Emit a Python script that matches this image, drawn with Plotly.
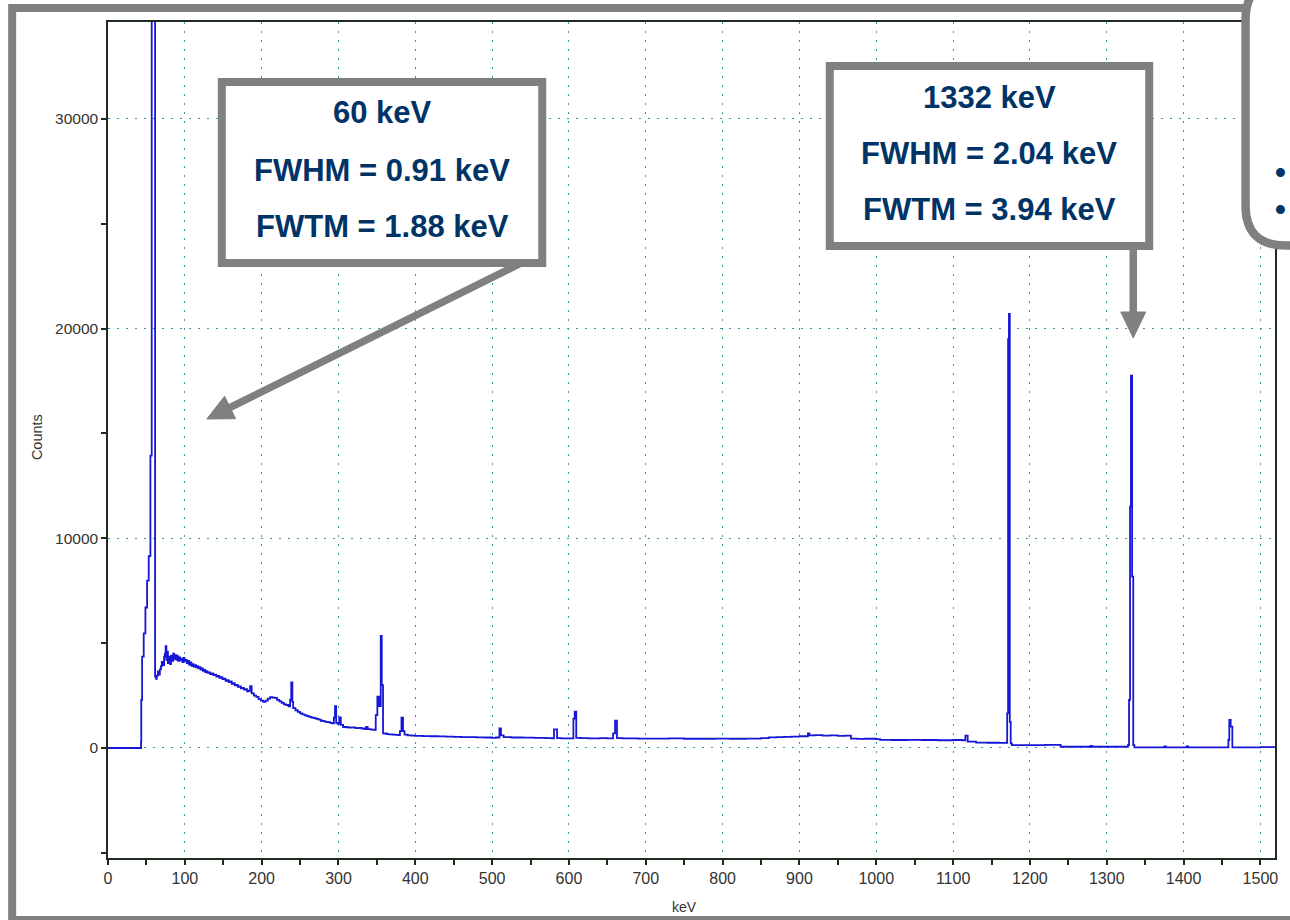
import math
import plotly.graph_objects as go

# ---------------- data ----------------
# 0 - 57 keV : flat zero, then the rising edge of the 59.5 keV (Am-241) peak
a_kev = [0, 43.0, 43.3, 44.4, 46.5, 48.7, 50.9, 53.0, 55.2, 56.9]
a_cnt = [0, 300, 2290, 4360, 5470, 6700, 7980, 9150, 13940, 52000]

# 61 - 130 keV : noisy continuum just after the peak
b1_kev = [61.3, 62.5, 63.5, 65, 66, 67.5, 69, 70, 71.5, 73,
          74, 75, 76, 77, 78, 79.5, 81, 82, 83.5, 85,
          86, 87.5, 89, 90, 91.5, 93, 94, 95.5, 97, 98,
          99.5, 101, 102.5, 104, 105.5, 107, 108.5, 110, 111.5, 113,
          114.5, 116, 117.5, 119, 120.5, 122, 123.5, 125, 126.5, 128,
          129.5]
b1_cnt = [3400, 3300, 3450, 3650, 3500, 3750, 3900, 4100, 3950, 4350,
          4500, 4860, 4200, 4600, 4050, 4350, 4000, 4400, 4150, 4500,
          4250, 4430, 4200, 4380, 4150, 4320, 4180, 4250, 4100, 4300,
          4150, 4200, 4050, 4150, 3980, 4080, 3920, 4000, 3880, 3950,
          3840, 3900, 3800, 3850, 3740, 3790, 3680, 3720, 3620, 3660,
          3580]

# 131 - 303 keV : falling continuum with small lines
b2_kev = [131, 133, 135, 137, 139, 141, 143, 145, 147, 149,
          151, 153, 155, 157, 159, 161, 163, 165, 167, 169,
          171, 173, 175, 177, 179, 181, 183, 185, 187, 190,
          193, 196, 199, 202, 205, 208, 211, 214, 217, 220,
          223, 226, 229, 232, 235, 237, 238.5, 240, 241, 244,
          247, 250, 253, 256, 259, 262, 265, 268, 271, 274,
          277, 280, 283, 286, 289, 292, 294, 295.5, 297, 299,
          301, 303]
b2_cnt = [3600, 3520, 3560, 3470, 3500, 3410, 3440, 3350, 3380, 3290,
          3310, 3200, 3240, 3140, 3170, 3060, 3090, 2990, 3010, 2910,
          2940, 2840, 2870, 2780, 2800, 2700, 2730, 2950, 2600, 2500,
          2440, 2330, 2260, 2200, 2260, 2350, 2430, 2400, 2390, 2290,
          2220, 2150, 2080, 2050, 1980, 2300, 3130, 2200, 1900, 1800,
          1720, 1650, 1600, 1560, 1520, 1480, 1450, 1420, 1390, 1350,
          1300, 1280, 1250, 1230, 1200, 1170, 1450, 2000, 1200, 1150,
          1460, 1100]

# 306 - 690 keV : 352, 383, 511, 583, 609, 661 keV lines
c_kev = [306, 310, 314, 318, 322, 326, 330, 334, 336, 338,
         342, 346, 348.5, 350.6, 352.8, 355, 356.3, 358, 360, 363,
         366, 370, 374, 378, 380, 382, 384, 386, 390, 395,
         400, 410, 420, 430, 440, 450, 460, 470, 480, 490,
         500, 505, 509.5, 511.5, 515, 525, 540, 555, 570, 578,
         580.5, 584.5, 590, 600, 605.8, 607.5, 609.5, 615, 625, 640,
         650, 657.5, 660, 662.5, 670, 690]
c_cnt = [1000, 990, 970, 980, 950, 960, 930, 900, 1000, 900,
         880, 870, 1570, 2450, 2000, 5340, 3000, 700, 690, 660,
         650, 640, 630, 620, 800, 1450, 800, 640, 600, 590,
         580, 570, 560, 550, 540, 530, 520, 520, 510, 500,
         480, 500, 940, 600, 520, 500, 490, 480, 470, 460,
         890, 470, 460, 460, 1400, 1730, 480, 470, 460, 470,
         460, 700, 1300, 470, 460, 450]

# 710 - 1160 keV : flat continuum with a hump near 910 keV
d_kev = [710, 730, 750, 770, 790, 810, 830, 850, 860, 870,
         880, 890, 900, 911, 913, 920, 930, 940, 950, 960,
         967, 975, 985, 1000, 1005, 1020, 1040, 1060, 1080, 1100,
         1112, 1116, 1119, 1130, 1145, 1160]
d_cnt = [450, 460, 440, 440, 450, 440, 450, 470, 510, 520,
         530, 540, 560, 700, 600, 610, 590, 600, 580, 590,
         450, 430, 440, 420, 390, 380, 390, 380, 370, 380,
         370, 590, 300, 260, 250, 240]

# 1169 - 1519 keV : Co-60 lines (1173, 1332 keV) and K-40 (1460 keV)
e_kev = [1169.0, 1170.4, 1171.6, 1172.7, 1173.8, 1175.0, 1176.5, 1200, 1220, 1240,
         1260, 1279, 1281, 1300, 1320, 1327.5, 1329.0, 1330.3, 1331.5, 1333.0,
         1334.5, 1336.0, 1360, 1375, 1377, 1404, 1406, 1430, 1458.3, 1459.5,
         1461.3, 1463.5, 1480, 1500, 1519]
e_cnt = [250, 1650, 19500, 20700, 1250, 220, 140, 140, 150, 60,
         60, 100, 60, 60, 60, 140, 2290, 11510, 17760, 8170,
         140, 30, 30, 80, 30, 80, 30, 30, 380, 1335,
         1015, 30, 30, 40, 30]

energy = a_kev + b1_kev + b2_kev + c_kev + d_kev + e_kev
counts = a_cnt + b1_cnt + b2_cnt + c_cnt + d_cnt + e_cnt

x_ticks = list(range(0, 1501, 100))
y_ticks = [0, 10000, 20000, 30000]

box1_lines = ["60 keV", "FWHM = 0.91 keV", "FWTM = 1.88 keV"]
box2_lines = ["1332 keV", "FWHM = 2.04 keV", "FWTM = 3.94 keV"]

# ---------------- layout geometry ----------------
W, H = 1290, 920
L, R, T, B = 108, 13, 22, 62
PW = W - L - R
PH = H - T - B


def px(x):
    return (x - L) / PW


def py(y):
    return (H - B - y) / PH


GRAY = "#808080"
NAVY = "#003366"
AXIS = "#1e2b1e"
GRID = "#3a9898"
TXT = "#333333"

fig = go.Figure()
fig.add_trace(go.Scatter(
    x=energy, y=counts, mode="lines",
    line=dict(shape="hv", color="#1616d6", width=1.8),
    hoverinfo="skip", showlegend=False))

fig.update_xaxes(
    range=[0, 1519], tickmode="array", tickvals=x_ticks,
    showgrid=True, gridcolor=GRID, gridwidth=1, griddash="2px,7px",
    zeroline=False, showline=True, linecolor=AXIS, linewidth=1.5, mirror=True,
    ticks="outside", ticklen=5, tickwidth=1.5, tickcolor=AXIS,
    minor=dict(dtick=50, tick0=0, ticks="outside", ticklen=5, tickwidth=1.5,
               tickcolor=AXIS, showgrid=False),
    tickfont=dict(family="Liberation Sans, Arial", size=16, color=TXT),
    fixedrange=True)
fig.update_yaxes(
    range=[-5246, 34620], tickmode="array", tickvals=y_ticks, tickformat="d",
    showgrid=True, gridcolor=GRID, gridwidth=1, griddash="2px,7px",
    zeroline=False, showline=True, linecolor=AXIS, linewidth=1.5, mirror=True,
    ticks="outside", ticklen=5, tickwidth=1.5, tickcolor=AXIS,
    minor=dict(dtick=5000, tick0=0, ticks="outside", ticklen=5, tickwidth=1.5,
               tickcolor=AXIS, showgrid=False),
    tickfont=dict(family="Liberation Sans, Arial", size=15.5, color=TXT),
    fixedrange=True)

shapes = []
# outer gray frame
shapes.append(dict(type="rect", xref="paper", yref="paper",
                   x0=px(12), x1=px(1310), y0=py(920), y1=py(8),
                   line=dict(color=GRAY, width=8), fillcolor="rgba(0,0,0,0)",
                   layer="above"))
# rounded box at top right (mostly off-canvas)
pts = [("M", 1330, -20), ("L", 1287.5, -20), ("Q", 1247.5, -20, 1247.5, 20),
       ("L", 1247.5, 205.5), ("Q", 1247.5, 245.5, 1287.5, 245.5), ("L", 1330, 245.5)]
path = ""
for p in pts:
    if p[0] == "Q":
        path += "Q{:.5f},{:.5f} {:.5f},{:.5f} ".format(px(p[1]), py(p[2]), px(p[3]), py(p[4]))
    else:
        path += "{}{:.5f},{:.5f} ".format(p[0], px(p[1]), py(p[2]))
path += "Z"
shapes.append(dict(type="path", xref="paper", yref="paper", path=path,
                   fillcolor="white", line=dict(color=GRAY, width=8.5), layer="above"))


def box(x0, y0, x1, y1):
    return dict(type="rect", xref="paper", yref="paper",
                x0=px(x0), x1=px(x1), y0=py(y1), y1=py(y0),
                fillcolor="white", line=dict(color=GRAY, width=8), layer="above")


shapes.append(box(222, 82, 543, 263))
shapes.append(box(831, 66, 1151, 246))


def arrow(sx, sy, tx, ty, head_len=26, half_w=12.5, width=7.5):
    dx, dy = tx - sx, ty - sy
    d = math.hypot(dx, dy)
    ux, uy = dx / d, dy / d
    bx, by = tx - head_len * ux, ty - head_len * uy
    nx, ny = -uy, ux
    out = [dict(type="line", xref="paper", yref="paper",
                x0=px(sx), y0=py(sy), x1=px(bx + ux * 2), y1=py(by + uy * 2),
                line=dict(color=GRAY, width=width), layer="above")]
    c1 = (bx + nx * half_w, by + ny * half_w)
    c2 = (bx - nx * half_w, by - ny * half_w)
    p = "M{:.5f},{:.5f} L{:.5f},{:.5f} L{:.5f},{:.5f} Z".format(
        px(tx), py(ty), px(c1[0]), py(c1[1]), px(c2[0]), py(c2[1]))
    out.append(dict(type="path", xref="paper", yref="paper", path=p,
                    fillcolor=GRAY, line=dict(color=GRAY, width=1), layer="above"))
    return out


shapes += arrow(522, 263, 207, 419)
shapes += arrow(1135, 247, 1135, 338)

annotations = []
box_font = dict(family="Liberation Sans, Arial", size=31, color=NAVY, weight=700)
for txt, yy in zip(box1_lines, [113, 170, 227]):
    annotations.append(dict(text=txt, xref="paper", yref="paper", x=px(382.5), y=py(yy),
                            xanchor="center", yanchor="middle", showarrow=False, font=box_font))
for txt, yy in zip(box2_lines, [97, 153, 210]):
    annotations.append(dict(text=txt, xref="paper", yref="paper", x=px(991), y=py(yy),
                            xanchor="center", yanchor="middle", showarrow=False, font=box_font))
for yy in [172, 210]:
    annotations.append(dict(text="•", xref="paper", yref="paper", x=px(1290), y=py(yy),
                            xanchor="right", yanchor="middle", showarrow=False, font=box_font))
annotations.append(dict(text="keV", xref="paper", yref="paper", x=px(685), y=py(907),
                        xanchor="center", yanchor="middle", showarrow=False,
                        font=dict(family="Liberation Sans, Arial", size=14, color=TXT)))
annotations.append(dict(text="Counts", xref="paper", yref="paper", x=px(37), y=py(437),
                        xanchor="center", yanchor="middle", showarrow=False, textangle=-90,
                        font=dict(family="Liberation Sans, Arial", size=14.5, color=TXT)))

fig.update_layout(
    width=W, height=H,
    margin=dict(l=L, r=R, t=T, b=B, pad=0),
    paper_bgcolor="white", plot_bgcolor="white",
    shapes=shapes, annotations=annotations,
    showlegend=False)

fig.write_html("out.html")
